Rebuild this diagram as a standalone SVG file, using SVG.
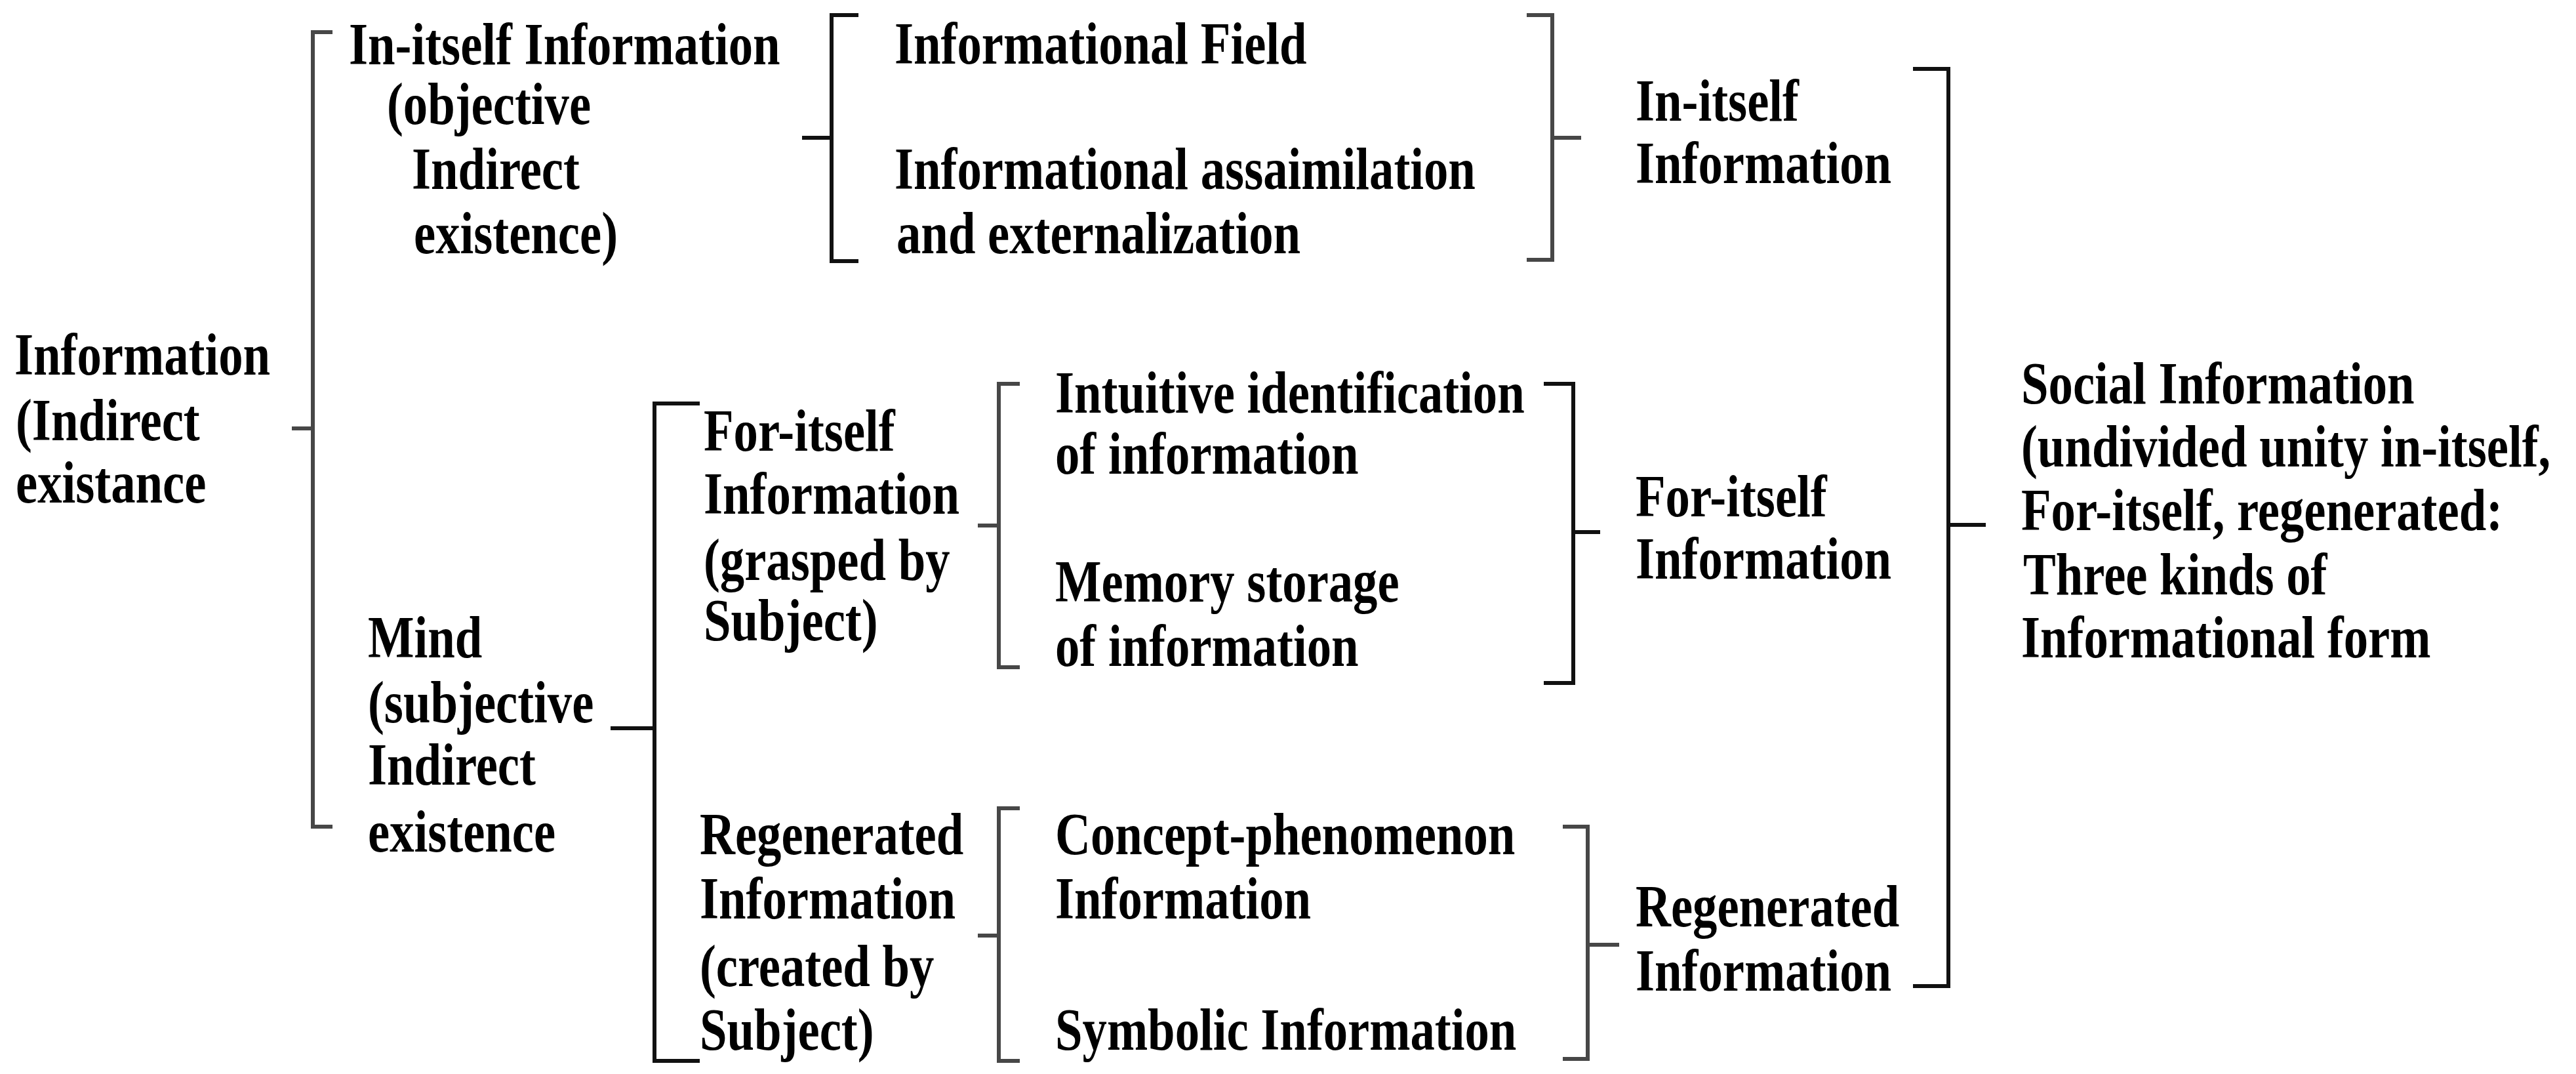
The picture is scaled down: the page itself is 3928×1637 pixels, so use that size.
<svg xmlns="http://www.w3.org/2000/svg" width="3928" height="1637" viewBox="0 0 3928 1637">
<style>
text{font-family:"Liberation Serif","Times New Roman",serif;font-size:90px;font-weight:bold;fill:#000}
.br{fill:none;stroke:#111;stroke-width:6;stroke-linejoin:miter}
.g{stroke:#474747}
</style>
<rect width="3928" height="1637" fill="#fff"/>
<g id="connectors">
<path class="br g" d="M507 49 H477 V1260 H507 M477 653 H445"/>
<path class="br" d="M1309 23 H1268 V398 H1309 M1268 210 H1223"/>
<path class="br g" d="M2328 23 H2367 V396 H2328 M2367 210 H2411"/>
<path class="br" d="M1067 615 H998 V1617 H1067 M998 1110 H931"/>
<path class="br g" d="M1555 585 H1523 V1017 H1555 M1523 801 H1491"/>
<path class="br" d="M2354 585 H2399 V1041 H2354 M2399 811 H2440"/>
<path class="br g" d="M1555 1232 H1523 V1617 H1555 M1523 1426 H1491"/>
<path class="br g" d="M2383 1260 H2421 V1614 H2383 M2421 1440 H2469"/>
<path class="br" d="M2917 105 H2971 V1503 H2917 M2971 800 H3028"/>
</g>
<g id="information">
<text transform="translate(22,571) scale(0.83,1)">Information</text>
<text transform="translate(24,671) scale(0.83,1)">(Indirect</text>
<text transform="translate(24,766) scale(0.83,1)">existance</text>
</g>
<g id="initself">
<text transform="translate(532,98) scale(0.83,1)">In-itself Information</text>
<text transform="translate(590,189) scale(0.83,1)">(objective</text>
<text transform="translate(628,288) scale(0.83,1)">Indirect</text>
<text transform="translate(631,386) scale(0.83,1)">existence)</text>
</g>
<g id="field">
<text transform="translate(1364,97) scale(0.83,1)">Informational Field</text>
</g>
<g id="assimilation">
<text transform="translate(1364,288) scale(0.83,1)">Informational assaimilation</text>
<text transform="translate(1367,386) scale(0.83,1)">and externalization</text>
</g>
<g id="initself-result">
<text transform="translate(2494,184) scale(0.83,1)">In-itself</text>
<text transform="translate(2494,279) scale(0.83,1)">Information</text>
</g>
<g id="mind">
<text transform="translate(561,1002) scale(0.83,1)">Mind</text>
<text transform="translate(561,1101) scale(0.83,1)">(subjective</text>
<text transform="translate(561,1196) scale(0.83,1)">Indirect</text>
<text transform="translate(561,1298) scale(0.83,1)">existence</text>
</g>
<g id="foritself">
<text transform="translate(1073,687) scale(0.83,1)">For-itself</text>
<text transform="translate(1073,783) scale(0.83,1)">Information</text>
<text transform="translate(1073,884) scale(0.83,1)">(grasped by</text>
<text transform="translate(1073,976) scale(0.83,1)">Subject)</text>
</g>
<g id="intuitive">
<text transform="translate(1609,629) scale(0.83,1)">Intuitive identification</text>
<text transform="translate(1609,722) scale(0.83,1)">of information</text>
</g>
<g id="memory">
<text transform="translate(1609,917) scale(0.83,1)">Memory storage</text>
<text transform="translate(1609,1015) scale(0.83,1)">of information</text>
</g>
<g id="foritself-result">
<text transform="translate(2494,787) scale(0.83,1)">For-itself</text>
<text transform="translate(2494,882) scale(0.83,1)">Information</text>
</g>
<g id="regenerated">
<text transform="translate(1067,1302) scale(0.83,1)">Regenerated</text>
<text transform="translate(1067,1400) scale(0.83,1)">Information</text>
<text transform="translate(1067,1503) scale(0.83,1)">(created by</text>
<text transform="translate(1067,1600) scale(0.83,1)">Subject)</text>
</g>
<g id="concept">
<text transform="translate(1609,1302) scale(0.83,1)">Concept-phenomenon</text>
<text transform="translate(1609,1400) scale(0.83,1)">Information</text>
</g>
<g id="symbolic">
<text transform="translate(1609,1600) scale(0.83,1)">Symbolic Information</text>
</g>
<g id="regenerated-result">
<text transform="translate(2494,1412) scale(0.83,1)">Regenerated</text>
<text transform="translate(2494,1510) scale(0.83,1)">Information</text>
</g>
<g id="social">
<text transform="translate(3082,615) scale(0.83,1)">Social Information</text>
<text transform="translate(3082,711) scale(0.83,1)">(undivided unity in-itself,</text>
<text transform="translate(3082,808) scale(0.83,1)">For-itself, regenerated:</text>
<text transform="translate(3085,906) scale(0.83,1)">Three kinds of</text>
<text transform="translate(3082,1002) scale(0.83,1)">Informational form</text>
</g>
</svg>
